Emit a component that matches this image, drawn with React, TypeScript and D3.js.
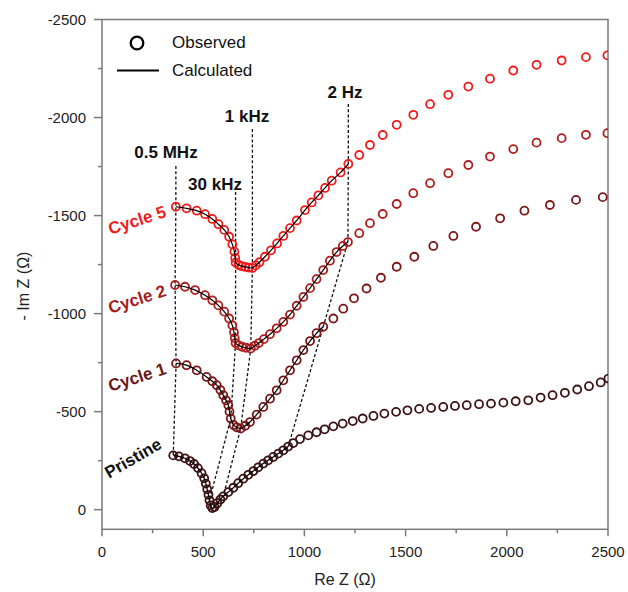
import React from "react";
import * as d3 from "d3";

type Pt = [number, number];

// Re Z, Im Z (ohm)
const cycle5: Pt[] = [
  [365, -1545], [418, -1537], [468, -1525], [509, -1507], [545, -1483], [575, -1456],
  [604, -1427], [628, -1392], [644, -1353], [654, -1316], [658, -1284], [660, -1260],
  [675, -1248], [690, -1242], [708, -1238], [725, -1235], [743, -1233], [760, -1246],
  [778, -1262], [805, -1290], [835, -1323], [865, -1358], [896, -1396], [929, -1436],
  [962, -1475], [1003, -1528], [1036, -1567], [1069, -1603], [1102, -1641], [1135, -1678],
  [1179, -1720], [1217, -1763], [1271, -1809], [1324, -1860], [1387, -1911], [1456, -1963],
  [1538, -2014], [1621, -2068], [1711, -2116], [1810, -2158], [1917, -2198], [2032, -2240],
  [2147, -2269], [2271, -2291], [2391, -2308], [2497, -2317],
];

const cycle2: Pt[] = [
  [361, -1146], [410, -1137], [460, -1120], [509, -1094], [545, -1068], [575, -1042],
  [604, -1010], [628, -975], [644, -940], [652, -905], [656, -875], [660, -850],
  [675, -838], [692, -831], [712, -826], [735, -822], [755, -836], [775, -850],
  [800, -870], [830, -895], [863, -925], [896, -958], [929, -995], [962, -1040],
  [995, -1085], [1028, -1130], [1060, -1176], [1093, -1222], [1126, -1270], [1159, -1314],
  [1190, -1345], [1215, -1365], [1271, -1410], [1324, -1461], [1387, -1508], [1456, -1559],
  [1538, -1614], [1621, -1665], [1711, -1716], [1810, -1758], [1917, -1801], [2032, -1839],
  [2147, -1872], [2271, -1895], [2391, -1912], [2497, -1920],
];

const cycle1: Pt[] = [
  [366, -746], [418, -737], [468, -711], [517, -677], [545, -655], [567, -635],
  [585, -610], [599, -584], [613, -558], [624, -533], [630, -500], [636, -465],
  [650, -432], [665, -420], [685, -414], [708, -428], [731, -447], [764, -485],
  [797, -524], [830, -566], [863, -609], [896, -660], [929, -711], [962, -762],
  [995, -814], [1028, -860], [1060, -900], [1093, -933], [1143, -975], [1192, -1025],
  [1245, -1078], [1307, -1128], [1378, -1183], [1456, -1239], [1543, -1290], [1637, -1345],
  [1736, -1396], [1848, -1443], [1967, -1486], [2087, -1525], [2213, -1554], [2342, -1580],
  [2474, -1594],
];

const pristine: Pt[] = [
  [352, -277], [380, -272], [410, -262], [435, -248], [455, -233], [474, -212],
  [492, -186], [505, -160], [513, -133], [520, -104], [526, -76], [531, -48],
  [537, -22], [545, -8], [556, -14], [570, -33], [585, -52], [599, -68],
  [624, -90], [649, -112], [673, -135], [698, -158], [723, -178], [748, -197],
  [772, -216], [797, -235], [821, -252], [846, -269], [871, -286], [896, -303],
  [920, -322], [945, -340], [978, -360], [1019, -379], [1060, -395], [1100, -410],
  [1143, -425], [1189, -439], [1239, -452], [1288, -465], [1341, -478], [1395, -490],
  [1453, -499], [1509, -507], [1567, -514], [1626, -519], [1686, -524], [1744, -529],
  [1802, -533], [1863, -538], [1922, -541], [1983, -546], [2044, -553], [2106, -558],
  [2167, -572], [2226, -584], [2287, -596], [2348, -613], [2406, -630], [2464, -649],
  [2502, -669],
];

const seriesNames = ["Cycle 5", "Cycle 2", "Cycle 1", "Pristine"];
const seriesData = [cycle5, cycle2, cycle1, pristine];
const seriesColors = ["#f21a1a", "#b01d1d", "#7c1818", "#3c1212"];
const labelColors = ["#f21a1a", "#a51c1c", "#6f1616", "#111111"];

// index of the 0.5 MHz, 30 kHz, 1 kHz and 2 Hz point in each series
const freqNames = ["0.5 MHz", "30 kHz", "1 kHz", "2 Hz"];
const cycle5Freq = [0, 11, 16, 31];
const cycle2Freq = [0, 11, 15, 31];
const cycle1Freq = [0, 11, 14, 27];
const pristineFreq = [0, 11, 17, 30];
const seriesFreq = [cycle5Freq, cycle2Freq, cycle1Freq, pristineFreq];

const xTicks = [0, 500, 1000, 1500, 2000, 2500];
const xMinor = [250, 750, 1250, 1750, 2250];
const yTicks = [-2500, -2000, -1500, -1000, -500, 0];
const yMinor = [-2250, -1750, -1250, -750, -250];

const W = 628;
const H = 592;
const left = 102, right = 608, top = 19.5, bottom = 529.3;
const font = "'Liberation Sans', Arial, sans-serif";

export default function App() {
  const x = d3.scaleLinear().domain([0, 2500]).range([left, right]);
  const y = d3.scaleLinear().domain([100, -2500]).range([bottom, top]);

  const calcLine = d3
    .line<Pt>()
    .x((d) => x(d[0]))
    .y((d) => y(d[1]))
    .curve(d3.curveCatmullRom);

  const guide = d3.line<[number, number]>().x((d) => d[0]).y((d) => d[1]);

  // label placement (px) and where the dotted guide starts under it
  const freqLabelPos = [
    { cx: 166, base: 158, topY: 166 },
    { cx: 215, base: 190, topY: 192 },
    { cx: 247, base: 122, topY: 129 },
    { cx: 345, base: 98, topY: 104 },
  ];
  const seriesLabelPos = [
    { cx: 137, cy: 220, rot: -18 },
    { cx: 137, cy: 299, rot: -18 },
    { cx: 137, cy: 377, rot: -18 },
    { cx: 133, cy: 458, rot: -30 },
  ];

  const axisColor = "#7a7a7a";

  return (
    <svg
      width={W}
      height={H}
      style={{ position: "absolute", left: 0, top: 0, background: "#fff" }}
      fontFamily={font}
    >
      <defs>
        <clipPath id="plot">
          <rect x={left} y={top} width={right - left} height={bottom - top} />
        </clipPath>
      </defs>

      {/* frame */}
      <rect
        x={left}
        y={top}
        width={right - left}
        height={bottom - top}
        fill="none"
        stroke={axisColor}
        strokeWidth={1.5}
      />

      {/* x axis ticks */}
      {xTicks.map((t) => (
        <g key={"xt" + t}>
          <line x1={x(t)} x2={x(t)} y1={bottom} y2={bottom + 7} stroke={axisColor} strokeWidth={1.5} />
          <text x={x(t)} y={557} textAnchor="middle" fontSize={15} fill="#222">
            {t}
          </text>
        </g>
      ))}
      {xMinor.map((t) => (
        <line key={"xm" + t} x1={x(t)} x2={x(t)} y1={bottom} y2={bottom + 4} stroke={axisColor} strokeWidth={1.5} />
      ))}

      {/* y axis ticks */}
      {yTicks.map((t) => (
        <g key={"yt" + t}>
          <line x1={left - 8} x2={left} y1={y(t)} y2={y(t)} stroke={axisColor} strokeWidth={1.5} />
          <text x={86} y={y(t)} dy="0.35em" textAnchor="end" fontSize={15} fill="#222">
            {t}
          </text>
        </g>
      ))}
      {yMinor.map((t) => (
        <line key={"ym" + t} x1={left - 4} x2={left} y1={y(t)} y2={y(t)} stroke={axisColor} strokeWidth={1.5} />
      ))}

      {/* axis titles */}
      <text x={(left + right) / 2 - 10} y={585} textAnchor="middle" fontSize={16} fill="#222">
        Re Z (Ω)
      </text>
      <text
        transform={`translate(29,286) rotate(-90)`}
        textAnchor="middle"
        fontSize={16}
        fill="#222"
      >
        - Im Z (Ω)
      </text>

      {/* frequency guide lines */}
      {freqNames.map((name, fi) => {
        const p = freqLabelPos[fi];
        const pts: [number, number][] = seriesData.map((s, si) => {
          const d = s[seriesFreq[si][fi]];
          return [x(d[0]), y(d[1])];
        });
        const path: [number, number][] = [[pts[0][0], p.topY], ...pts];
        return (
          <g key={name}>
            <path
              d={guide(path) || ""}
              fill="none"
              stroke="#111"
              strokeWidth={1.3}
              strokeDasharray="3,2.2"
            />
            <text x={p.cx} y={p.base} textAnchor="middle" fontSize={17} fontWeight="bold" fill="#111">
              {name}
            </text>
          </g>
        );
      })}

      {/* observed circles and calculated lines */}
      <g clipPath="url(#plot)">
        {seriesData
          .map((s, si) => ({ s, si }))
          .reverse()
          .map(({ s, si }) => (
            <g key={seriesNames[si]}>
              {s.map((d, i) => (
                <circle
                  key={i}
                  cx={x(d[0])}
                  cy={y(d[1])}
                  r={4}
                  fill="none"
                  stroke={seriesColors[si]}
                  strokeWidth={1.8}
                />
              ))}
              <path
                d={calcLine(s.slice(0, seriesFreq[si][3] + 1)) || ""}
                fill="none"
                stroke="#000"
                strokeWidth={1.2}
              />
            </g>
          ))}
      </g>

      {/* series labels */}
      {seriesNames.map((n, i) => {
        const p = seriesLabelPos[i];
        return (
          <text
            key={n}
            transform={`translate(${p.cx},${p.cy}) rotate(${p.rot})`}
            textAnchor="middle"
            dy="0.35em"
            fontSize={17}
            fontWeight="bold"
            fill={labelColors[i]}
          >
            {n}
          </text>
        );
      })}

      {/* legend */}
      <circle cx={137} cy={43} r={6.3} fill="none" stroke="#000" strokeWidth={2.3} />
      <text x={172} y={48} fontSize={17} fill="#111">
        Observed
      </text>
      <line x1={117} x2={159} y1={70.5} y2={70.5} stroke="#000" strokeWidth={2} />
      <text x={172} y={76} fontSize={17} fill="#111">
        Calculated
      </text>
    </svg>
  );
}
